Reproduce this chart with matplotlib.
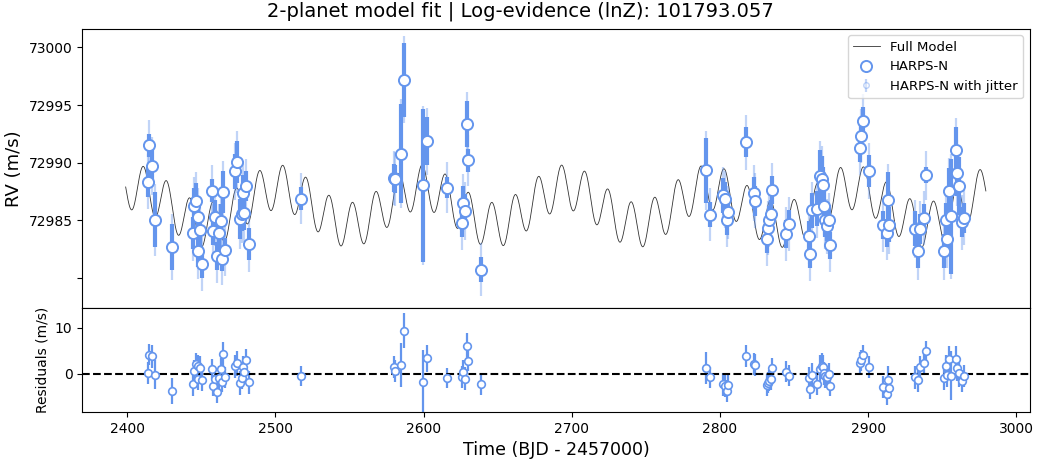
import numpy as np
import matplotlib.pyplot as plt

# HARPS-N radial velocities (BJD - 2457000, m/s)
time = np.array([
    2413.96, 2415.03, 2417.06, 2419.08, 2430.13,
    2444.29, 2444.97, 2446.32, 2447.66, 2448.07, 2449.21, 2450.36,
    2457.30, 2457.78, 2459.53, 2460.47, 2462.02, 2463.17, 2464.25, 2464.92, 2466.07,
    2473.01, 2473.96, 2476.18, 2477.33, 2478.00, 2479.08, 2480.02, 2482.04,
    2517.10,
    2580.00, 2581.01, 2584.92, 2586.74, 2599.75, 2602.04, 2615.93,
    2625.84, 2626.72, 2628.07, 2629.01, 2629.89, 2638.85,
    2790.81, 2793.51, 2802.00, 2803.35, 2804.70, 2805.64, 2817.30, 2822.90, 2823.58,
    2831.46, 2832.34, 2833.01, 2834.16, 2835.31, 2844.27, 2846.49,
    2859.98, 2861.12, 2862.00, 2865.37, 2867.87, 2869.01, 2869.69, 2870.36,
    2871.24, 2872.38, 2873.46, 2874.61,
    2894.63, 2895.51, 2896.38, 2900.43, 2909.87, 2912.84, 2913.51, 2914.39,
    2931.92, 2933.47, 2935.29, 2937.51, 2939.13,
    2951.47, 2952.61, 2953.29, 2954.37, 2955.98, 2959.35, 2960.03, 2961.11,
    2963.40, 2964.48,
])
rv = np.array([
    72988.35, 72991.50, 72989.71, 72985.06, 72982.68,
    72983.89, 72986.27, 72986.70, 72985.28, 72982.33, 72984.19, 72981.24,
    72987.57, 72984.07, 72985.28, 72981.90, 72983.93, 72984.91, 72981.64, 72987.45, 72982.45,
    72989.25, 72990.05, 72985.11, 72985.58, 72987.40, 72985.66, 72987.94, 72982.97,
    72986.88,
    72988.70, 72988.60, 72990.78, 72997.20, 72988.03, 72991.87, 72987.83,
    72984.76, 72986.50, 72985.80, 72993.32, 72990.20, 72980.72,
    72989.33, 72985.49, 72987.16, 72986.82, 72985.06, 72985.69, 72991.76, 72987.40, 72986.70,
    72983.37, 72984.33, 72985.06, 72985.58, 72987.66, 72983.84, 72984.67,
    72983.61, 72982.11, 72985.86, 72986.01, 72988.84, 72988.61, 72988.09, 72986.21,
    72985.06, 72984.48, 72985.00, 72982.83,
    72991.27, 72992.28, 72993.61, 72989.27, 72984.62, 72983.89, 72986.79, 72984.62,
    72984.28, 72982.33, 72984.28, 72985.23, 72988.92,
    72982.33, 72985.00, 72983.41, 72987.54, 72985.34, 72991.07, 72989.10, 72987.97,
    72984.85, 72985.23,
])
rv_err = np.array([
    1.3, 1.0, 1.5, 2.4, 2.0,
    1.4, 1.5, 1.5, 1.5, 1.4, 1.5, 1.2,
    1.0, 1.2, 1.5, 1.2, 1.5, 1.5, 1.0, 1.8, 1.0,
    1.5, 1.8, 1.7, 1.5, 1.5, 1.5, 1.3, 1.4,
    1.0,
    1.2, 1.2, 4.3, 3.2, 6.6, 2.1, 0.9,
    1.2, 1.5, 1.5, 2.0, 1.0, 1.1,
    2.8, 1.1, 1.5, 1.5, 1.3, 1.2, 1.3, 1.4, 1.3,
    1.2, 1.2, 1.2, 1.2, 1.2, 1.2, 1.2,
    1.3, 1.2, 1.5, 1.5, 2.3, 2.0, 1.5, 1.5,
    1.5, 1.3, 1.3, 1.2,
    1.2, 1.2, 1.2, 1.4, 1.2, 1.2, 2.4, 1.5,
    1.5, 1.5, 1.3, 1.2, 0.7,
    1.5, 1.5, 1.5, 2.0, 5.0, 2.0, 2.0, 2.5,
    1.3, 1.3,
])
jitter = 2.0

# Best-fit planet parameters: period (d), semi-amplitude (m/s), reference epoch
periods = [15.68, 97.0]
amplitudes = [1.948, 1.628]
epochs = [2406.98, 2380.43]
gamma = 72986.236


def full_model(t):
    out = np.full_like(t, gamma, dtype=float)
    for P, K, T0 in zip(periods, amplitudes, epochs):
        out += K * np.sin(2 * np.pi * (t - T0) / P)
    return out


t_model = np.linspace(time.min() - 15, time.max() + 15, 3000)
rv_model = full_model(t_model)
resid = rv - full_model(time)
err_jit = np.sqrt(rv_err**2 + jitter**2)

color = 'cornflowerblue'
fig = plt.figure(figsize=(10.4, 4.66), dpi=100)
ax = fig.add_axes([0.079, 0.339, 0.911, 0.599])
axr = fig.add_axes([0.079, 0.116, 0.911, 0.223], sharex=ax)

# top panel: model + data with both error bar sets
ax.plot(t_model, rv_model, color='k', lw=0.6, alpha=0.8, label='Full Model')
ax.errorbar(time, rv, yerr=err_jit, fmt='o', color=color, ms=4, mfc='white', mec=color,
            alpha=0.4, elinewidth=1.6, capsize=0, label='HARPS-N with jitter', zorder=2)
ax.errorbar(time, rv, yerr=rv_err, fmt='none', ecolor=color, elinewidth=3, capsize=0, zorder=3)
ax.plot(time, rv, 'o', ms=8, mfc='white', mec=color, mew=1.4, label='HARPS-N', zorder=4)
h, l = ax.get_legend_handles_labels()
order = [l.index('Full Model'), l.index('HARPS-N'), l.index('HARPS-N with jitter')]
ax.legend([h[i] for i in order], [l[i] for i in order], loc='upper right', fontsize=9.5)
ax.set_ylim(72977.4, 73001.6)
ax.set_yticks([72980, 72985, 72990, 72995, 73000])
ax.set_yticklabels(['', '72985', '72990', '72995', '73000'])
ax.set_ylabel('RV (m/s)', fontsize=13)
ax.tick_params(labelbottom=False)
fig.suptitle('2-planet model fit | Log-evidence (lnZ): 101793.057', fontsize=14, y=0.997)

# bottom panel: residuals
axr.errorbar(time, resid, yerr=err_jit, fmt='o', color=color, ms=5.5, mfc='white',
             mec=color, mew=1.2, elinewidth=1.6, capsize=0)
axr.axhline(0, color='k', ls='--', lw=1.5)
axr.set_ylim(-8.3, 14.3)
axr.set_yticks([0, 10])
axr.set_ylabel('Residuals (m/s)', fontsize=10)
axr.set_xlim(2369.6, 3009)
axr.set_xlabel('Time (BJD - 2457000)', fontsize=12.5)

fig.savefig('out.png', dpi=100)
